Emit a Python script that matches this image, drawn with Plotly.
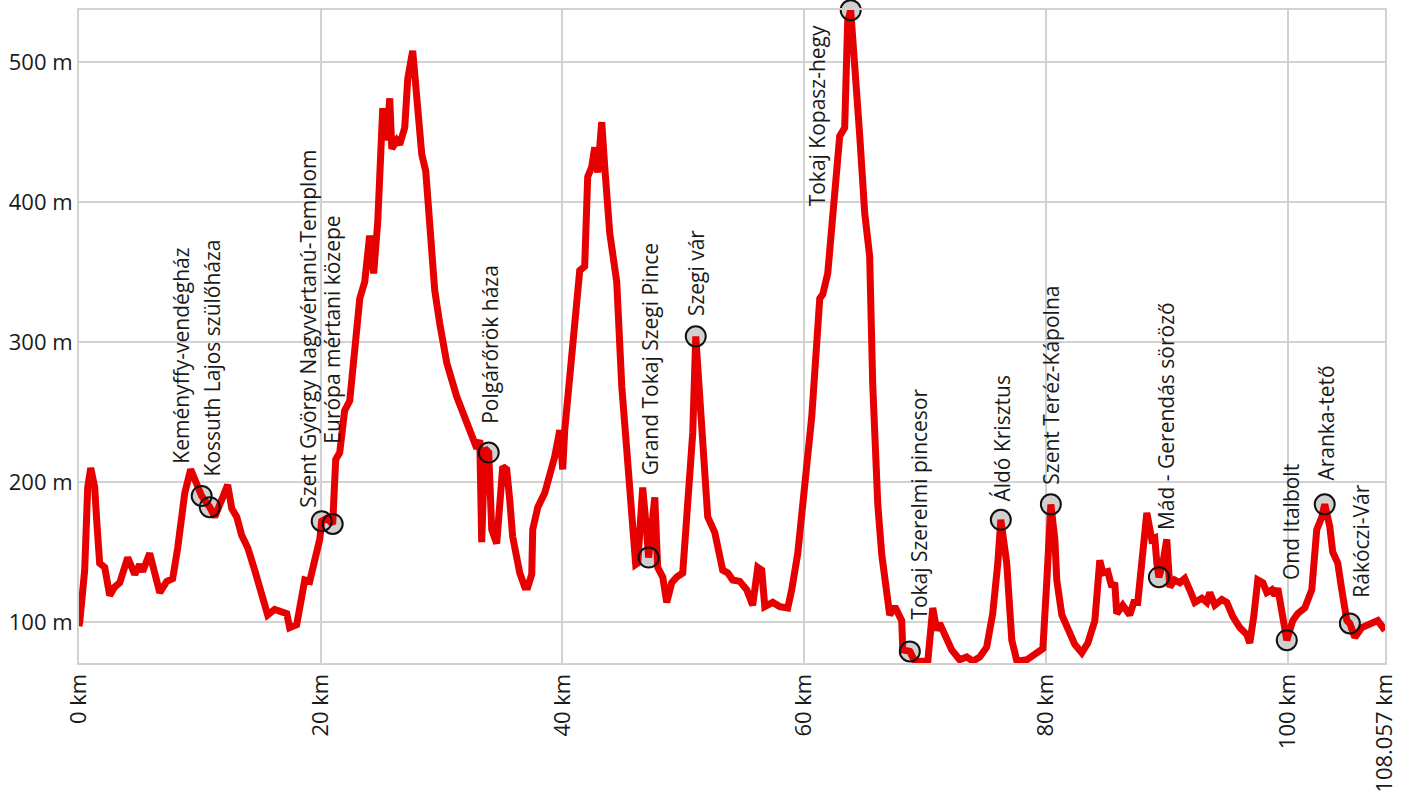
import plotly.graph_objects as go

# ---- elevation profile (distance in km, elevation in m) ----
dist_km = [
    0.0, 0.06, 0.47, 0.72, 0.97, 1.13, 1.3, 1.46, 1.55, 1.71, 2.13, 2.54, 2.95, 3.37, 4.03,
    4.61, 5.02, 5.27, 5.85, 6.26, 6.68, 7.26, 7.75, 8.17, 8.75, 9.24, 9.74, 10.15, 10.82,
    11.23, 11.89, 12.3, 12.64, 13.05, 13.46, 13.96, 14.54, 15.12, 15.61, 16.19, 16.77,
    17.19, 17.43, 18.01, 18.68, 19.09, 19.5, 19.92, 20.08, 20.5, 20.99, 21.24, 21.57,
    21.98, 22.4, 22.81, 23.23, 23.64, 24.05, 24.38, 24.72, 25.13, 25.46, 25.71, 25.88,
    26.29, 26.54, 26.95, 27.2, 27.61, 28.02, 28.36, 28.69, 29.02, 29.43, 29.85, 30.43,
    31.25, 32.08, 32.58, 32.91, 33.16, 33.32, 33.57, 33.9, 34.15, 34.56, 35.06, 35.39,
    35.64, 35.88, 36.47, 36.88, 37.13, 37.46, 37.54, 37.96, 38.53, 38.78, 39.36, 39.78,
    40.02, 40.19, 40.6, 41.02, 41.43, 41.84, 42.09, 42.42, 42.67, 42.92, 43.25, 43.5,
    43.91, 44.49, 44.91, 45.32, 45.73, 46.06, 46.23, 46.64, 46.97, 47.13, 47.64, 47.88,
    48.3, 48.63, 49.04, 49.45, 49.95, 50.36, 50.78, 51.03, 51.36, 51.78, 51.94, 52.02,
    52.6, 53.26, 53.68, 54.09, 54.67, 55.25, 55.74, 56.16, 56.49, 56.74, 57.4, 57.98,
    58.64, 58.97, 59.47, 60.05, 60.3, 60.63, 61.29, 61.54, 61.95, 62.36, 62.94, 63.35,
    63.6, 63.85, 64.18, 64.6, 65.01, 65.42, 65.67, 66.09, 66.42, 66.83, 67.08, 67.5,
    67.91, 68.07, 68.16, 68.74, 69.15, 70.23, 70.64, 70.97, 71.21, 71.63, 71.88, 72.21,
    72.87, 73.45, 73.95, 74.53, 75.1, 75.6, 76.02, 76.27, 76.76, 77.18, 77.6, 78.42,
    79.25, 79.75, 80.08, 80.41, 80.74, 80.9, 81.32, 81.82, 82.39, 82.97, 83.47, 84.05,
    84.46, 84.71, 85.12, 85.45, 85.7, 85.86, 86.36, 86.94, 87.27, 87.6, 87.93, 88.35,
    88.76, 89.01, 89.18, 89.35, 89.68, 90.0, 90.25, 90.66, 91.08, 91.49, 91.9, 92.32,
    92.9, 93.31, 93.56, 93.98, 94.56, 94.97, 95.46, 96.04, 96.62, 96.87, 97.2, 97.53,
    97.95, 98.28, 98.69, 98.94, 99.19, 99.6, 99.93, 100.43, 100.84, 101.42, 102.0,
    102.41, 102.83, 103.07, 103.49, 103.73, 104.15, 104.48, 104.9, 105.15, 105.56,
    106.14, 106.8, 107.46, 108.057,
]
elev_m = [
    97, 100, 137, 196, 210, 205, 196, 173, 149, 142, 139, 119, 125, 128, 146,
    134, 141, 136, 149, 137, 121, 129, 131, 153, 192, 209, 198, 190, 182,
    175, 189, 198, 181, 175, 162, 153, 137, 119, 105, 109, 107,
    106, 96, 98, 130, 129, 144, 159, 172, 174, 170, 216, 221,
    251, 258, 301, 331, 343, 376, 349, 386, 467, 444, 474, 438,
    444, 441, 453, 488, 508, 468, 434, 422, 376, 337, 313, 285,
    261, 242, 230, 224, 230, 157, 224, 221, 166, 156, 211, 209,
    187, 161, 135, 125, 125, 134, 166, 182, 192, 199, 218, 237,
    209, 237, 278, 323, 351, 354, 418, 425, 439, 421, 457, 425,
    378, 343, 268, 223, 175, 141, 142, 196, 164, 146, 189, 139,
    132, 114, 128, 132, 135, 185, 235, 304, 259, 199, 194, 175,
    164, 137, 135, 130, 129, 123, 112, 139, 137, 111, 114, 111,
    110, 123, 149, 205, 221, 247, 331, 334, 349, 386, 447, 453,
    529, 537, 501, 447, 392, 361, 270, 184, 148, 117, 105, 111,
    105, 101, 80, 79, 72, 72, 110, 94, 99, 91, 89, 80,
    73, 75, 72, 75, 82, 106, 142, 173, 142, 87, 72, 73,
    78, 81, 130, 184, 159, 130, 105, 96, 84, 78, 85, 101,
    144, 135, 136, 125, 128, 106, 112, 105, 114, 114, 142, 178,
    159, 160, 142, 132, 142, 159, 125, 130, 128, 131, 123, 114,
    117, 114, 121, 112, 116, 114, 104, 96, 91, 85, 104, 130,
    128, 121, 123, 119, 124, 106, 87, 101, 106, 110, 123,
    166, 175, 184, 168, 150, 142, 123, 101, 99, 89,
    96, 99, 101, 94,
]

# ---- points of interest ----
poi_names = [
    "Keményffy-vendégház", "Kossuth Lajos szülőháza", "Szent György Nagyvértanú-Templom",
    "Európa mértani közepe", "Polgárőrök háza", "Grand Tokaj Szegi Pince", "Szegi vár",
    "Tokaj Kopasz-hegy", "Tokaj Szerelmi pincesor", "Áldó Krisztus", "Szent Teréz-Kápolna",
    "Mád - Gerendás söröző", "Ond Italbolt", "Aranka-tető", "Rákóczi-Vár",
]
poi_km = [10.15, 10.82, 20.08, 20.99, 33.9, 47.13, 51.03, 63.85, 68.74, 76.27, 80.41,
          89.35, 99.93, 103.07, 105.15]
poi_elev = [190, 182, 172, 170, 221, 146, 304, 537, 79, 173, 184, 132, 87, 184, 99]

# ---- axis ticks ----
x_tick_vals = [0, 20, 40, 60, 80, 100, 108.057]
x_tick_text = ["0 km", "20 km", "40 km", "60 km", "80 km", "100 km", "108.057 km"]
y_tick_vals = [100, 200, 300, 400, 500]
y_tick_text = ["100 m", "200 m", "300 m", "400 m", "500 m"]

# label placement (pixel shifts from each marker; layout only)
label_shift = [(-21, 30), (2, 29), (-14, 11), (-1, 78), (1, 27), (1, 80), (1, 18),
               (-34, -13), (9, 30), (1, 16), (0, 18), (7, 45), (4, 58), (1, 22), (11, 24)]

FONT = "Open Sans"
GRID = "#d2d2d2"
TXT = "#1a1a1a"

fig = go.Figure()
# marker fills under the line
fig.add_trace(go.Scatter(
    x=poi_km, y=poi_elev, mode="markers", cliponaxis=False, hoverinfo="skip",
    marker=dict(size=20, color="#d0d0d0", line=dict(width=0)),
))
fig.add_trace(go.Scatter(
    x=dist_km, y=elev_m, mode="lines",
    line=dict(color="#e60000", width=7, shape="linear"),
))
# marker outlines above the line
fig.add_trace(go.Scatter(
    x=poi_km, y=poi_elev, mode="markers", cliponaxis=False, hoverinfo="skip",
    marker=dict(size=20, color="rgba(0,0,0,0)", line=dict(width=2, color="#111111")),
))

for name, xk, ye, (dx, dy) in zip(poi_names, poi_km, poi_elev, label_shift):
    fig.add_annotation(
        x=xk, y=ye, text=name, showarrow=False, textangle=-90,
        xanchor="center", yanchor="top" if dy < 0 else "bottom",
        xshift=dx, yshift=dy,
        font=dict(family=FONT, size=21, color=TXT),
    )

fig.update_layout(
    width=1417, height=807,
    margin=dict(l=79, r=32, t=10, b=144, autoexpand=False),
    paper_bgcolor="white", plot_bgcolor="white",
    showlegend=False,
    font=dict(family=FONT, size=22, color=TXT),
)
fig.update_xaxes(
    range=[0, 108.057], tickvals=x_tick_vals, ticktext=x_tick_text, tickangle=-90,
    showgrid=True, gridcolor=GRID, gridwidth=2, zeroline=False,
    showline=True, linecolor=GRID, linewidth=2, mirror=True,
    ticks="", tickfont=dict(family=FONT, size=22, color=TXT),
)
fig.update_yaxes(
    range=[70.7, 537.1], tickvals=y_tick_vals, ticktext=y_tick_text,
    showgrid=True, gridcolor=GRID, gridwidth=2, zeroline=False,
    showline=True, linecolor=GRID, linewidth=2, mirror=True,
    ticks="", tickfont=dict(family=FONT, size=22, color=TXT),
)

fig.write_html(
    "out.html",
    config={"displayModeBar": False},
    post_script="document.body.style.margin='0';document.body.style.overflow='hidden';",
)
